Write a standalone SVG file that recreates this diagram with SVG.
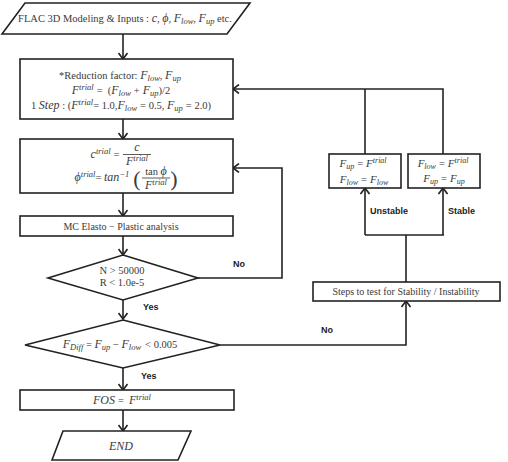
<svg xmlns="http://www.w3.org/2000/svg" width="508" height="462" viewBox="0 0 508 462">
<defs>
<marker id="ah" viewBox="-7 -5 8 10" refX="0" refY="0" markerWidth="8" markerHeight="10" markerUnits="userSpaceOnUse" orient="auto">
<path d="M-6,-4.5 L0,0 L-6,4.5" fill="none" stroke="#222" stroke-width="1.6"/>
</marker>
<style>
.s{fill:#fff;stroke:#222;stroke-width:1.6}
.c{fill:none;stroke:#222;stroke-width:1.6}
.t{font-family:"Liberation Serif","DejaVu Serif",serif;font-size:10.5px;fill:#3a3a3a;text-anchor:middle}
.i{font-style:italic;font-size:12px}
.sb{font-size:8.5px;font-style:italic}
.sm .i{font-size:11px}
.sm .sb{font-size:8px}
.l{font-family:"Liberation Sans",Arial,sans-serif;font-size:9px;font-weight:bold;fill:#222}
</style>
</defs>
<rect width="508" height="462" fill="#fff"/>
<g id="connectors">
<line class="c" x1="123" y1="34" x2="123" y2="59" marker-end="url(#ah)"/>
<line class="c" x1="123" y1="119" x2="123" y2="139" marker-end="url(#ah)"/>
<line class="c" x1="123" y1="193" x2="123" y2="216" marker-end="url(#ah)"/>
<line class="c" x1="123" y1="236" x2="123" y2="255" marker-end="url(#ah)"/>
<line class="c" x1="123" y1="300" x2="123" y2="319" marker-end="url(#ah)"/>
<line class="c" x1="123" y1="368" x2="123" y2="390" marker-end="url(#ah)"/>
<line class="c" x1="123" y1="410" x2="123" y2="431" marker-end="url(#ah)"/>
<polyline class="c" points="198,278 282,278 282,168 233,168" marker-end="url(#ah)"/>
<polyline class="c" points="220,345 406,345 406,301" marker-end="url(#ah)"/>
<line class="c" x1="406" y1="282" x2="406" y2="235"/>
<line class="c" x1="365" y1="235" x2="444" y2="235"/>
<line class="c" x1="365" y1="235" x2="365" y2="188" marker-end="url(#ah)"/>
<line class="c" x1="443" y1="235" x2="443" y2="188" marker-end="url(#ah)"/>
<line class="c" x1="365" y1="154" x2="365" y2="89"/>
<polyline class="c" points="443,154 443,89 233,89" marker-end="url(#ah)"/>
<text class="l" x="233" y="267">No</text>
<text class="l" x="143" y="310">Yes</text>
<text class="l" x="321" y="333">No</text>
<text class="l" x="141" y="379">Yes</text>
<text class="l" x="370" y="214">Unstable</text>
<text class="l" x="448" y="214">Stable</text>
</g>
<g id="start">
<polygon class="s" points="25,3 250,3 227,34 2,34"/>
<text class="t" x="125" y="22">FLAC 3D Modeling  &amp; Inputs : <tspan class="i">c</tspan>, <tspan class="i">ϕ</tspan>, <tspan class="i">F</tspan><tspan class="sb" baseline-shift="-2">low</tspan>, <tspan class="i">F</tspan><tspan class="sb" baseline-shift="-2">up</tspan> etc.</text>
</g>
<g id="reduction">
<rect class="s" x="20" y="59" width="213" height="60"/>
<text class="t" x="120" y="79">*Reduction factor: <tspan class="i">F</tspan><tspan class="sb" baseline-shift="-2">low</tspan>, <tspan class="i">F</tspan><tspan class="sb" baseline-shift="-2">up</tspan></text>
<text class="t" x="121" y="94"><tspan class="i">F</tspan><tspan class="sb" baseline-shift="4">trial</tspan><tspan dx="3">=</tspan><tspan dx="5">(</tspan><tspan class="i">F</tspan><tspan class="sb" baseline-shift="-2">low</tspan><tspan dx="3">+</tspan><tspan dx="3" class="i">F</tspan><tspan class="sb" baseline-shift="-2">up</tspan>)/2</text>
<text class="t" x="121" y="109">1 <tspan class="i">Step</tspan> : (<tspan class="i">F</tspan><tspan class="sb" baseline-shift="4">trial</tspan>= 1.0,<tspan class="i">F</tspan><tspan class="sb" baseline-shift="-2">low</tspan><tspan dx="3">= 0.5,</tspan> <tspan class="i">F</tspan><tspan class="sb" baseline-shift="-2">up</tspan><tspan dx="3">= 2.0)</tspan></text>
</g>
<g id="trial">
<rect class="s" x="20" y="139" width="213" height="54"/>
<text class="t" x="105" y="158"><tspan class="i">c</tspan><tspan class="sb" baseline-shift="4">trial</tspan><tspan dx="3">=</tspan></text>
<text class="t i" x="137" y="151">c</text>
<line x1="123" y1="154.5" x2="151" y2="154.5" stroke="#333" stroke-width="0.8"/>
<text class="t" x="137" y="165"><tspan class="i">F</tspan><tspan class="sb" baseline-shift="4">trial</tspan></text>
<text class="t" x="102" y="181"><tspan class="i">ϕ</tspan><tspan class="sb" baseline-shift="4">trial</tspan>= <tspan class="i">tan</tspan><tspan class="sb" baseline-shift="4">−1</tspan></text>
<text class="t" x="137" y="186" style="font-size:22px">(</text>
<text class="t" x="174" y="186" style="font-size:22px">)</text>
<text class="t" x="156" y="175">tan <tspan class="i">ϕ</tspan></text>
<line x1="142" y1="178" x2="170" y2="178" stroke="#333" stroke-width="0.8"/>
<text class="t" x="156" y="189"><tspan class="i">F</tspan><tspan class="sb" baseline-shift="4">trial</tspan></text>
</g>
<g id="analysis">
<rect class="s" x="20" y="216" width="213" height="20"/>
<text class="t" x="121" y="230" style="font-size:10px">MC Elasto − Plastic analysis</text>
</g>
<g id="convergence">
<polygon class="s" points="123,255 198,278 123,300 48,278"/>
<text class="t" x="122" y="274">N &gt; 50000</text>
<text class="t" x="122" y="286">R &lt; 1.0e-5</text>
</g>
<g id="difference">
<polygon class="s" points="123,320 220,345 123,368 25,345"/>
<text class="t" x="120" y="348"><tspan class="i">F</tspan><tspan class="sb" baseline-shift="-2">Diff</tspan> = <tspan class="i">F</tspan><tspan class="sb" baseline-shift="-2">up</tspan> − <tspan class="i">F</tspan><tspan class="sb" baseline-shift="-2">low</tspan><tspan dx="4">&lt; 0.005</tspan></text>
</g>
<g id="fos">
<rect class="s" x="20" y="390" width="214" height="20"/>
<text class="t" x="122" y="404"><tspan class="i">FOS</tspan><tspan dx="3">=</tspan><tspan dx="5" class="i">F</tspan><tspan class="sb" baseline-shift="4">trial</tspan></text>
</g>
<g id="end">
<polygon class="s" points="63,431 191,431 178,460 52,460"/>
<text class="t i" x="121" y="450">END</text>
</g>
<g id="unstable" class="sm">
<rect class="s" x="329" y="154" width="72" height="34"/>
<text class="t" x="363" y="167"><tspan class="i">F</tspan><tspan class="sb" baseline-shift="-2">up</tspan><tspan dx="3">=</tspan><tspan dx="3" class="i">F</tspan><tspan class="sb" baseline-shift="4">trial</tspan></text>
<text class="t" x="364" y="183"><tspan class="i">F</tspan><tspan class="sb" baseline-shift="-2">low</tspan><tspan dx="3">=</tspan><tspan dx="3" class="i">F</tspan><tspan class="sb" baseline-shift="-2">low</tspan></text>
</g>
<g id="stable" class="sm">
<rect class="s" x="408" y="154" width="72" height="34"/>
<text class="t" x="443" y="167"><tspan class="i">F</tspan><tspan class="sb" baseline-shift="-2">low</tspan><tspan dx="3">=</tspan><tspan dx="3" class="i">F</tspan><tspan class="sb" baseline-shift="4">trial</tspan></text>
<text class="t" x="444" y="182"><tspan class="i">F</tspan><tspan class="sb" baseline-shift="-2">up</tspan><tspan dx="3">=</tspan><tspan dx="3" class="i">F</tspan><tspan class="sb" baseline-shift="-2">up</tspan></text>
</g>
<g id="steps">
<rect class="s" x="313" y="282" width="187" height="19"/>
<text class="t" x="406" y="295" style="font-size:10px">Steps to test for Stability / Instability</text>
</g>
</svg>
